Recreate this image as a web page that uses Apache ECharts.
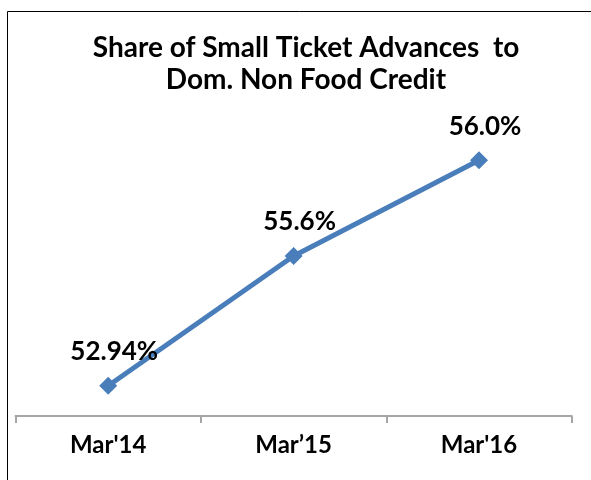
<!DOCTYPE html>
<html>
<head>
<meta charset="utf-8">
<script src="https://cdn.jsdelivr.net/npm/echarts@6/dist/echarts.min.js"></script>
<style>html,body{margin:0;padding:0;background:#fff;}#c{width:591px;height:480px;}</style>
</head>
<body>
<div id="c"></div>
<script>
const categories = ["Mar'14", "Mar\u201915", "Mar'16"];
const values = [52.94, 54.70, 56.0];
const valueLabels = ["52.94%", "55.6%", "56.0%"];
const titleLines = ["Share of Small Ticket Advances  to", "Dom. Non Food Credit"];

const chart = echarts.init(document.getElementById('c'), null, {renderer: 'canvas'});
const FONT = 'Lato';
chart.setOption({
  animation: false,
  backgroundColor: '#fff',
  graphic: [
    {type: 'rect', shape: {x: 7.5, y: 11.5, width: 700, height: 600}, style: {fill: 'none', stroke: '#000', lineWidth: 1}, silent: true},
    {type: 'text', x: 306, y: 48, style: {text: titleLines[0], font: 'bold 28px Lato', fill: '#000', align: 'center', verticalAlign: 'middle'}},
    {type: 'text', x: 306, y: 80, style: {text: titleLines[1], font: 'bold 28px Lato', fill: '#000', align: 'center', verticalAlign: 'middle'}}
  ],
  grid: {left: 15.5, right: 19.3, top: 40, bottom: 64, containLabel: false},
  xAxis: {
    type: 'category',
    data: categories,
    boundaryGap: true,
    axisLine: {lineStyle: {color: '#a6a6a6', width: 2}},
    axisTick: {show: true, length: 7, lineStyle: {color: '#a6a6a6', width: 2}},
    axisLabel: {fontFamily: FONT, fontWeight: 'bold', fontSize: 24, color: '#000', margin: 17}
  },
  yAxis: {
    type: 'value', min: 52.53, max: 57.63, show: false, splitLine: {show: false}
  },
  series: [{
    type: 'line',
    data: values,
    symbol: 'diamond',
    symbolSize: 18,
    lineStyle: {color: '#4A7EBB', width: 5},
    itemStyle: {color: '#4A7EBB'},
    label: {
      show: true, position: 'top', distance: 12, offset: [6, 0],
      fontFamily: FONT, fontWeight: 'bold', fontSize: 26, color: '#000',
      formatter: p => valueLabels[p.dataIndex]
    }
  }]
});
</script>
</body>
</html>
